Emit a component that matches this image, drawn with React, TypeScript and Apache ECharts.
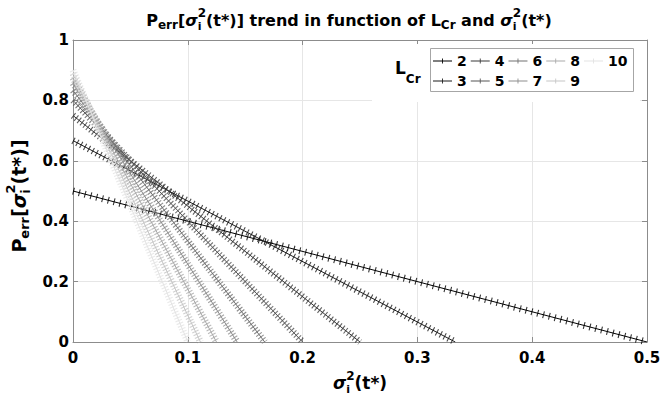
import React, { useEffect, useRef } from 'react';
import * as echarts from 'echarts';

// ---- data ----
const levels = [2, 3, 4, 5, 6, 7, 8, 9, 10];
// P_err at sigma^2 = 0 for each L_Cr
const startValues = [0.5, 0.667, 0.75, 0.8, 0.833, 0.857, 0.875, 0.889, 0.9];
// sigma^2 where P_err reaches 0 for each L_Cr
const zeroCrossings = [0.5, 0.333, 0.25, 0.2, 0.167, 0.143, 0.125, 0.111, 0.1];
const legendRow1 = ['2', '4', '6', '8', '10'];
const legendRow2 = ['3', '5', '7', '9'];

// ---- styles ----
const grays = ['#000000', '#1c1c1c', '#393939', '#555555', '#717171', '#8e8e8e', '#aaaaaa', '#c6c6c6', '#e3e3e3'];
const markerSpacing = [6.0, 4.37, 3.69, 3.37, 3.19, 3.1, 3.04, 3.0, 2.98];
const FONT = 'DejaVu Sans, Verdana, sans-serif';
const axisColor = '#8c8c8c';
const gridColor = '#e6e6e6';

function makeRich(base: number, sub: number) {
  const common = { fontFamily: FONT, fontWeight: 'bold' as const, color: '#000', align: 'left' as const };
  return {
    b: { ...common, fontSize: base },
    sig: { ...common, fontSize: base, fontStyle: 'italic' as const },
    sub: { ...common, fontSize: sub, padding: [Math.round(base * 0.6), 0, 0, 0] },
    isub: { ...common, fontSize: sub - 1, width: 0, padding: [Math.round(base * 0.75), 0, 0, 0] },
    sup: { ...common, fontSize: sub, padding: [0, 0, Math.round(base * 0.85), 0] },
  };
}

const titleText =
  '{b|P}{sub|err}{b|[}{sig|σ}{isub|i}{sup|2}{b|(t*)] trend in function of L}{sub|Cr}{b| and }{sig|σ}{isub|i}{sup|2}{b|(t*)}';
const yNameText = '{b|P}{sub|err}{b|[}{sig|σ}{isub|i}{sup|2}{b|(t*)]}';
const xNameText = '{sig|σ}{isub|i}{sup|2}{b|(t*)}';

function buildOption() {
  const series: any[] = [];
  levels.forEach((L, i) => {
    const data = [
      [0, startValues[i]],
      [zeroCrossings[i], 0],
    ];
    const color = grays[i];
    const period = markerSpacing[i];
    series.push({
      type: 'line',
      name: String(L),
      data,
      symbol: 'none',
      itemStyle: { color },
      lineStyle: { color, width: 1 },
      z: 2,
    });
    series.push({
      type: 'line',
      name: String(L),
      data,
      symbol: 'none',
      itemStyle: { color },
      lineStyle: { color, width: 7, type: [1.1, period - 1.1], opacity: 0.8 },
      z: 2,
    });
  });

  const legendCommon = {
    orient: 'horizontal',
    left: 433,
    padding: 0,
    itemGap: 4,
    itemWidth: 19,
    itemHeight: 6,
    icon: 'path://M0,2.5H22V3.5H0Z M10.5,0H11.5V6H10.5Z',
    textStyle: { fontFamily: FONT, fontWeight: 'bold', fontSize: 14, color: '#000' },
    selectedMode: false,
    z: 6,
  };

  const axisBase = {
    type: 'value',
    axisLine: { show: true, onZero: false, lineStyle: { color: axisColor, width: 1 } },
    axisTick: { show: true, inside: true, length: 5, lineStyle: { color: axisColor } },
  };

  return {
    animation: false,
    backgroundColor: '#fff',
    grid: { left: 73, top: 40, right: 13, bottom: 56, containLabel: false, outerBoundsMode: 'none' },
    xAxis: [
      {
        ...axisBase,
        min: 0,
        max: 0.5,
        interval: 0.1,
        axisLabel: { color: '#000', fontFamily: FONT, fontWeight: 'bold', fontSize: 15, margin: 8 },
        splitLine: { show: true, lineStyle: { color: gridColor } },
        name: xNameText,
        nameLocation: 'middle',
        nameGap: 27,
        nameTextStyle: { rich: makeRich(17, 12) },
      },
      {
        ...axisBase,
        position: 'top',
        min: 0,
        max: 0.5,
        interval: 0.1,
        axisLabel: { show: false },
        splitLine: { show: false },
      },
    ],
    yAxis: [
      {
        ...axisBase,
        min: 0,
        max: 1,
        interval: 0.2,
        axisLabel: { color: '#000', fontFamily: FONT, fontWeight: 'bold', fontSize: 15, margin: 4 },
        splitLine: { show: true, lineStyle: { color: gridColor } },
        name: yNameText,
        nameLocation: 'middle',
        nameRotate: 90,
        nameGap: 39,
        nameTextStyle: { rich: makeRich(19, 13), padding: [0, 10, 0, 0] },
      },
      {
        ...axisBase,
        position: 'right',
        min: 0,
        max: 1,
        interval: 0.2,
        axisLabel: { show: false },
        splitLine: { show: false },
      },
    ],
    legend: [
      { ...legendCommon, top: 54, data: legendRow1 },
      { ...legendCommon, top: 74, data: legendRow2 },
    ],
    graphic: [
      {
        type: 'rect',
        z: 3,
        shape: { x: 372, y: 44, width: 268, height: 58 },
        style: { fill: '#fff' },
      },
      {
        type: 'rect',
        z: 4,
        shape: { x: 430.5, y: 48.5, width: 203, height: 43 },
        style: { fill: 'none', stroke: '#a6a6a6', lineWidth: 1 },
      },
      {
        type: 'text',
        z: 4,
        x: 395,
        y: 72,
        style: {
          text: '{L|L}{c|Cr}',
          align: 'left',
          verticalAlign: 'middle',
          rich: {
            L: { fontFamily: FONT, fontWeight: 'bold', fontSize: 17, color: '#000', padding: [0, 0, 8, 0], align: 'left' },
            c: { fontFamily: FONT, fontWeight: 'bold', fontSize: 12, color: '#000', padding: [14, 0, 0, 0], align: 'left' },
          },
        },
      },
      {
        type: 'text',
        z: 4,
        x: 349,
        y: 20,
        style: {
          text: titleText,
          align: 'center',
          verticalAlign: 'middle',
          rich: makeRich(16, 12),
        },
      },
    ],
    series,
  };
}

export default function App() {
  const ref = useRef<HTMLDivElement>(null);
  useEffect(() => {
    if (!ref.current) return;
    const chart = echarts.init(ref.current, null, { renderer: 'svg' });
    chart.setOption(buildOption() as any);
    return () => {
      chart.dispose();
    };
  }, []);
  return (
    <div
      ref={ref}
      style={{ position: 'fixed', left: 0, top: 0, width: 660, height: 398, background: '#fff' }}
    />
  );
}
